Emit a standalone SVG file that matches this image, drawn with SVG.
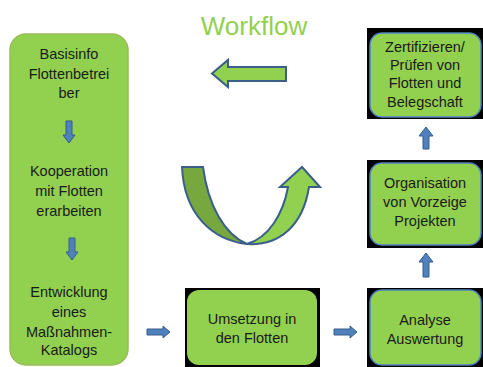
<svg xmlns="http://www.w3.org/2000/svg" width="483" height="367" viewBox="0 0 483 367">
<defs>
<style>
.t{font-family:"Liberation Sans",Arial,sans-serif;font-size:14.5px;fill:#1a1a1a;text-anchor:middle}
.title{font-family:"Liberation Sans",Arial,sans-serif;font-size:26px;fill:#92D050;text-anchor:middle}
.box{fill:#92D050}
.bluebox{fill:#92D050;stroke:#4F81BD;stroke-width:1.5}
.bg{fill:#000}
.sa{fill:#4F81BD;stroke:#385D8A;stroke-width:1}
.big{stroke:#3A5F8B;stroke-width:2;stroke-linejoin:miter}
</style>
</defs>
<rect width="483" height="367" fill="#fff"/>
<text class="title" x="254" y="35">Workflow</text>

<g id="node-basisinfo">
<rect x="10" y="34" width="118" height="331" rx="16" fill="#92D050" stroke="#9BBB59" stroke-width="1.5"/>
<text class="t" x="69" y="59">Basisinfo</text>
<text class="t" x="69" y="79">Flottenbetrei</text>
<text class="t" x="69" y="98">ber</text>
<text class="t" x="69" y="176">Kooperation</text>
<text class="t" x="69" y="196">mit Flotten</text>
<text class="t" x="69" y="216">erarbeiten</text>
<text class="t" x="69" y="297">Entwicklung</text>
<text class="t" x="69" y="317">eines</text>
<text class="t" x="69" y="337">Maßnahmen-</text>
<text class="t" x="69" y="355">Katalogs</text>
</g>

<g id="node-umsetzung">
<rect class="bg" x="185" y="288" width="135" height="79"/>
<rect class="box" x="187" y="290" width="130" height="75" rx="12"/>
<text class="t" x="252" y="324">Umsetzung in</text>
<text class="t" x="252" y="343">den Flotten</text>
</g>

<g id="node-analyse">
<rect class="bg" x="367" y="288" width="116" height="79"/>
<rect class="bluebox" x="370" y="290" width="111" height="75" rx="12"/>
<text class="t" x="425" y="325">Analyse</text>
<text class="t" x="425" y="344">Auswertung</text>
</g>

<g id="node-organisation">
<rect class="bg" x="367" y="160" width="116" height="88"/>
<rect class="bluebox" x="370" y="163" width="111" height="82" rx="12"/>
<text class="t" x="425" y="188">Organisation</text>
<text class="t" x="425" y="207">von Vorzeige</text>
<text class="t" x="425" y="226">Projekten</text>
</g>

<g id="node-zertifizieren">
<rect class="bg" x="367" y="28" width="116" height="91"/>
<rect class="bluebox" x="370" y="33" width="111" height="84" rx="12"/>
<text class="t" x="425" y="52">Zertifizieren/</text>
<text class="t" x="425" y="70">Prüfen von</text>
<text class="t" x="425" y="88">Flotten und</text>
<text class="t" x="425" y="107">Belegschaft</text>
</g>

<g id="connectors">
<path class="sa" d="M66,121 L72,121 L72,135 L75,135 L69,143 L63,135 L66,135 Z"/>
<path class="sa" d="M69,238 L75,238 L75,252 L78,252 L72,260 L66,252 L69,252 Z"/>
<path class="sa" d="M147,329 L163,329 L163,326 L170,332 L163,338 L163,335 L147,335 Z"/>
<path class="sa" d="M334,329 L350,329 L350,326 L357,332 L350,338 L350,335 L334,335 Z"/>
<path class="sa" d="M423,277 L423,262 L419,262 L426,253 L433,262 L429,262 L429,277 Z"/>
<path class="sa" d="M423,149 L423,136 L419,136 L426,127 L433,136 L429,136 L429,149 Z"/>
<path class="big" fill="#92D050" d="M286,67 L228,67 L228,60 L212,73.5 L228,87 L228,81 L286,81 Z"/>
<path class="big" fill="#77A83F" d="M182,167 L203,167 C208,205 224,234 247,244 C212,240 184,214 182,167 Z"/>
<path class="big" fill="#92D050" d="M247,244 C268,238 283,215 288,187 L280,187 L302,167 L320,187 L309,187 C303,225 280,246 247,244 Z"/>
</g>
</svg>
